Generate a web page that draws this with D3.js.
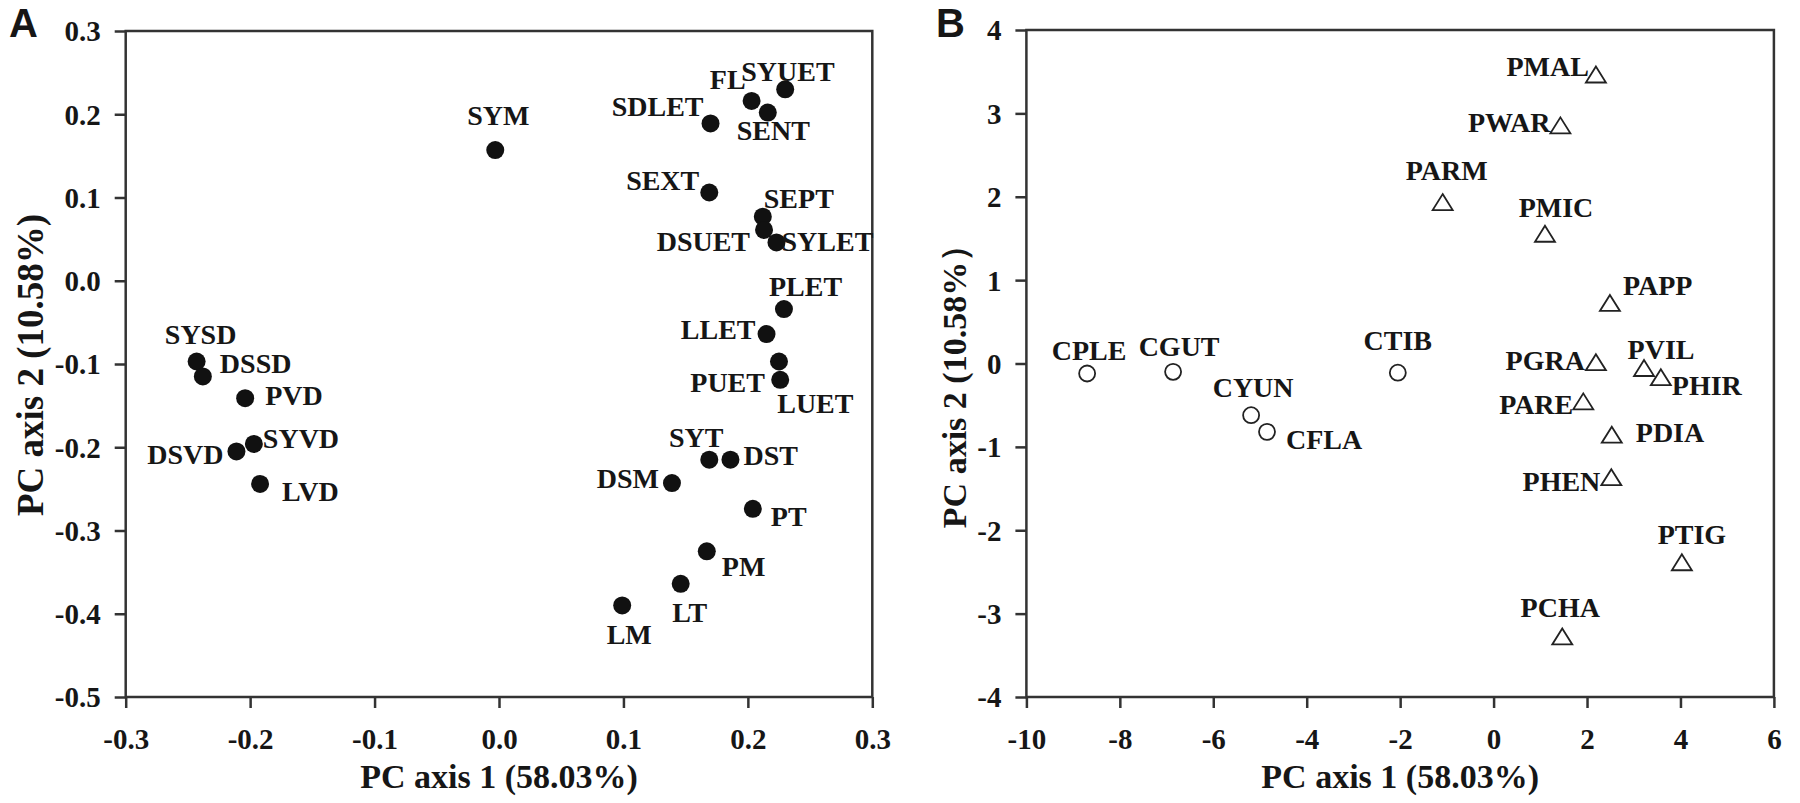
<!DOCTYPE html>
<html>
<head>
    <meta charset="utf-8">
    <title>PCA plots</title>
    <script src="https://d3js.org/d3.v7.min.js"></script>
    <style>
        body {
            margin: 0;
            padding: 0;
            background-color: #fff;
        }
        svg text {
            font-family: "Liberation Serif", "Times New Roman", serif;
            font-weight: bold;
            fill: #161616;
        }
        .frame {
            fill: none;
            stroke: #333;
            stroke-width: 2.5;
        }
        .axis path {
            display: none;
        }
        .axis line {
            stroke: #333;
            stroke-width: 2.5;
        }
        .panel-letter {
            font-family: "Liberation Sans", Arial, sans-serif !important;
        }
    </style>
</head>
<body>
    <svg id="chart" width="1800" height="803"></svg>

    <script>
        // Panel A: variable loadings
        const varNames = ["SYM", "SDLET", "FL", "SYUET", "SENT", "SEXT", "SEPT", "DSUET", "SYLET",
                          "PLET", "LLET", "PUET", "LUET", "SYSD", "DSSD", "PVD", "SYVD", "DSVD", "LVD",
                          "SYT", "DST", "DSM", "PT", "PM", "LT", "LM"];
        const varPC1 = [-0.003, 0.170, 0.203, 0.230, 0.216, 0.169, 0.212, 0.213, 0.223,
                        0.229, 0.215, 0.225, 0.226, -0.243, -0.238, -0.204, -0.197, -0.211, -0.192,
                        0.169, 0.186, 0.139, 0.204, 0.167, 0.146, 0.099];
        const varPC2 = [0.157, 0.189, 0.216, 0.230, 0.202, 0.106, 0.077, 0.061, 0.046,
                        -0.034, -0.064, -0.097, -0.119, -0.097, -0.115, -0.141, -0.196, -0.205, -0.244,
                        -0.215, -0.215, -0.243, -0.274, -0.325, -0.364, -0.390];

        // Panel B: species scores (C = circles, P = triangles)
        const cNames = ["CPLE", "CGUT", "CYUN", "CFLA", "CTIB"];
        const cPC1 = [-8.70, -6.86, -5.19, -4.85, -2.05];
        const cPC2 = [-0.12, -0.10, -0.62, -0.82, -0.11];

        const pNames = ["PMAL", "PWAR", "PARM", "PMIC", "PAPP", "PGRA", "PVIL", "PHIR",
                        "PARE", "PDIA", "PHEN", "PTIG", "PCHA"];
        const pPC1 = [2.19, 1.43, -1.09, 1.10, 2.49, 2.19, 3.22, 3.58, 1.92, 2.53, 2.52, 4.03, 1.47];
        const pPC2 = [3.46, 2.85, 1.93, 1.55, 0.72, 0.01, -0.06, -0.17, -0.46, -0.86, -1.37, -2.39, -3.28];

        // ticks
        const ticksAx = [-0.3, -0.2, -0.1, 0.0, 0.1, 0.2, 0.3];
        const ticksAy = [-0.5, -0.4, -0.3, -0.2, -0.1, 0.0, 0.1, 0.2, 0.3];
        const ticksBx = [-10, -8, -6, -4, -2, 0, 2, 4, 6];
        const ticksBy = [-4, -3, -2, -1, 0, 1, 2, 3, 4];

        // label placement [dx, dy, anchor]
        const labelPos = {
            SYM: [3, -25, "middle"], SDLET: [-7, -7, "end"], FL: [-6, -12, "end"],
            SYUET: [-44, -8, "start"], SENT: [-31, 27, "start"], SEXT: [-10, -3, "end"],
            SEPT: [1, -9, "start"], DSUET: [-14, 21, "end"], SYLET: [5, 9, "start"],
            PLET: [-15, -13, "start"], LLET: [-11, 5, "end"], PUET: [-14, 30, "end"],
            LUET: [-3, 33, "start"], SYSD: [4, -18, "middle"], DSSD: [17, -3, "start"],
            PVD: [20, 7, "start"], SYVD: [9, 4, "start"], DSVD: [-13, 13, "end"],
            LVD: [22, 17, "start"], SYT: [-13, -13, "middle"], DST: [13, 5, "start"],
            DSM: [-13, 5, "end"], PT: [18, 17, "start"], PM: [15, 25, "start"],
            LT: [9, 38, "middle"], LM: [7, 39, "middle"],
            PMAL: [-7, 1, "end"], PWAR: [-10, 6, "end"], PARM: [4, -23, "middle"],
            PMIC: [11, -17, "middle"], PAPP: [13, -8, "start"], PGRA: [-11, 7, "end"],
            PVIL: [17, -10, "middle"], PHIR: [11, 17, "start"], PARE: [-10, 12, "end"],
            PDIA: [24, 7, "start"], PHEN: [-11, 13, "end"], PTIG: [10, -19, "middle"],
            PCHA: [-2, -20, "middle"],
            CPLE: [2, -14, "middle"], CGUT: [6, -16, "middle"], CYUN: [2, -18, "middle"],
            CFLA: [19, 17, "start"], CTIB: [0, -23, "middle"]
        };

        const svg = d3.select("#chart");

        function drawPanel(opt) {
            const g = svg.append("g");
            const x = d3.scaleLinear().domain(opt.xDomain).range([opt.left, opt.right]);
            const y = d3.scaleLinear().domain(opt.yDomain).range([opt.bottom, opt.top]);

            g.append("g")
                .attr("class", "axis")
                .attr("transform", "translate(0," + opt.bottom + ")")
                .call(d3.axisBottom(x).tickValues(opt.xTicks).tickFormat(opt.fmt).tickSize(11).tickSizeOuter(0))
                .call(a => a.selectAll("text").attr("y", 52).attr("dy", 0).style("font-size", "29px"));

            g.append("g")
                .attr("class", "axis")
                .attr("transform", "translate(" + opt.left + ",0)")
                .call(d3.axisLeft(y).tickValues(opt.yTicks).tickFormat(opt.fmt).tickSize(11).tickSizeOuter(0))
                .call(a => a.selectAll("text").attr("x", -25).attr("dy", "0.34em").style("font-size", "29px"));

            g.append("rect")
                .attr("class", "frame")
                .attr("x", opt.left)
                .attr("y", opt.top)
                .attr("width", opt.right - opt.left)
                .attr("height", opt.bottom - opt.top);

            // axis titles
            g.append("text")
                .attr("x", (opt.left + opt.right) / 2)
                .attr("y", 788)
                .attr("text-anchor", "middle")
                .style("font-size", "34px")
                .text("PC axis 1 (58.03%)");

            g.append("text")
                .attr("transform", "translate(" + opt.yTitleX + "," + opt.yTitleY + ") rotate(-90)")
                .attr("text-anchor", "middle")
                .style("font-size", opt.yTitleSize)
                .text(opt.yTitle);

            g.append("text")
                .attr("class", "panel-letter")
                .attr("x", opt.letterX)
                .attr("y", 37)
                .style("font-size", "40px")
                .text(opt.letter);

            opt.series.forEach(s => {
                const pts = s.names.map((n, i) => ({ name: n, px: x(s.pc1[i]), py: y(s.pc2[i]) }));
                const marks = g.selectAll(null).data(pts);
                if (s.shape === "dot") {
                    marks.enter().append("circle")
                        .attr("cx", d => d.px).attr("cy", d => d.py).attr("r", 9)
                        .style("fill", "#111");
                } else if (s.shape === "circle") {
                    marks.enter().append("circle")
                        .attr("cx", d => d.px).attr("cy", d => d.py).attr("r", 8)
                        .style("fill", "none").style("stroke", "#222").style("stroke-width", 1.8);
                } else {
                    marks.enter().append("path")
                        .attr("transform", d => "translate(" + d.px + "," + d.py + ")")
                        .attr("d", "M0,-8.5L10,7.5L-10,7.5Z")
                        .style("fill", "none").style("stroke", "#222").style("stroke-width", 1.8);
                }
                g.selectAll(null).data(pts).enter().append("text")
                    .attr("x", d => d.px + labelPos[d.name][0])
                    .attr("y", d => d.py + labelPos[d.name][1])
                    .attr("text-anchor", d => labelPos[d.name][2])
                    .style("font-size", "28px")
                    .text(d => d.name);
            });
        }

        drawPanel({
            left: 125.7, right: 872.3, top: 31, bottom: 697,
            xDomain: [-0.3, 0.3], yDomain: [-0.5, 0.3],
            xTicks: ticksAx, yTicks: ticksAy,
            fmt: d => d.toFixed(1),
            yTitle: "PC axis 2 (10.58%)", yTitleX: 43, yTitleY: 365, yTitleSize: "37px",
            letter: "A", letterX: 9,
            series: [{ names: varNames, pc1: varPC1, pc2: varPC2, shape: "dot" }]
        });

        drawPanel({
            left: 1026.4, right: 1773.9, top: 30, bottom: 697,
            xDomain: [-10, 6], yDomain: [-4, 4],
            xTicks: ticksBx, yTicks: ticksBy,
            fmt: d => String(d),
            yTitle: "PC axis 2 (10.58%\uFF09", yTitleX: 966, yTitleY: 378, yTitleSize: "34px",
            letter: "B", letterX: 936,
            series: [
                { names: cNames, pc1: cPC1, pc2: cPC2, shape: "circle" },
                { names: pNames, pc1: pPC1, pc2: pPC2, shape: "triangle" }
            ]
        });
    </script>
</body>
</html>
